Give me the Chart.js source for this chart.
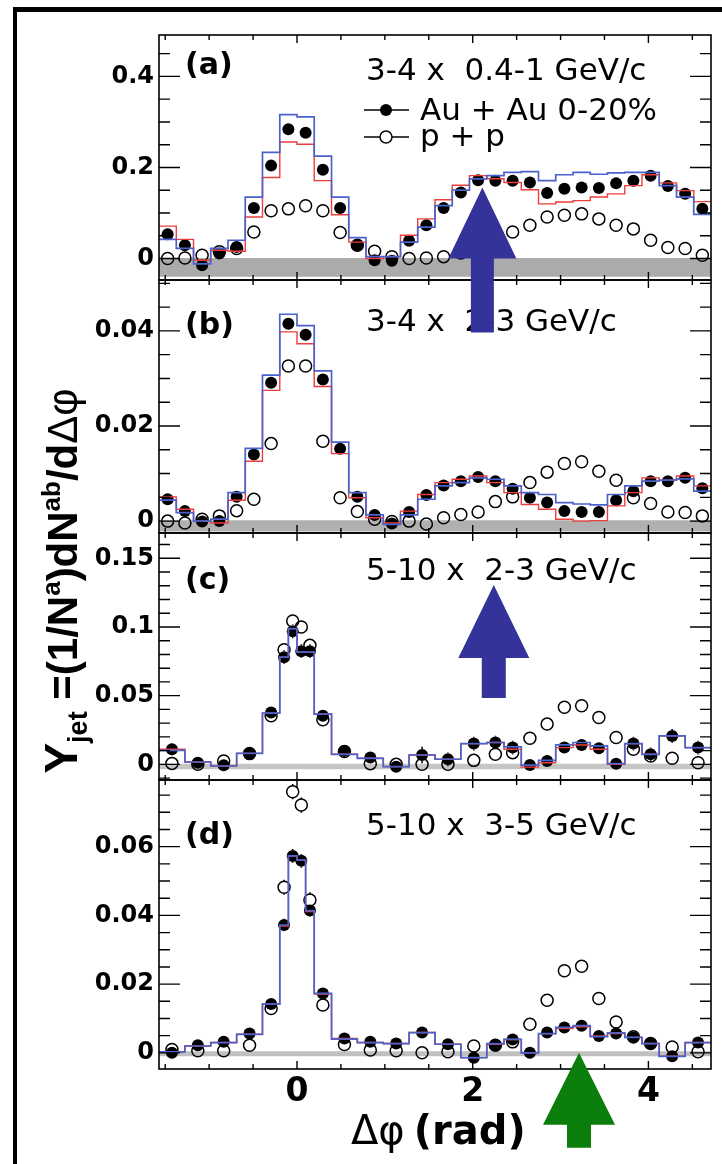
<!DOCTYPE html>
<html>
<head>
<meta charset="utf-8">
<script src="https://cdn.jsdelivr.net/npm/chart.js@4.4.1/dist/chart.umd.min.js"></script>
<style>
  html, body { margin: 0; padding: 0; background: #fff; }
  canvas { display: block; }
</style>
</head>
<body>
<canvas id="jetChart" width="722" height="1164"></canvas>
<script>
// x axis (rad)
const X_MIN = -1.5708;
const X_MAX = 4.7124;
const xTickLabels = [0, 2, 4];
const xMinorStep = 0.5;

// bin edges (rad): uniform pi/16 bins for (a),(b), variable bins for (c),(d)
const edgesAB = [-1.571, -1.374, -1.178, -0.982, -0.785, -0.589, -0.393, -0.196, 0, 0.196, 0.393, 0.589, 0.785, 0.982, 1.178, 1.374,
  1.571, 1.767, 1.963, 2.160, 2.356, 2.553, 2.749, 2.945, 3.142, 3.338, 3.534, 3.731, 3.927, 4.123, 4.320, 4.516, 4.712];
const edgesCD = [-1.571, -1.276, -0.982, -0.687, -0.393, -0.196, -0.098, 0, 0.098, 0.196, 0.393, 0.687, 0.982, 1.276,
  1.571, 1.865, 2.160, 2.356, 2.553, 2.749, 2.945, 3.142, 3.338, 3.534, 3.731, 3.927, 4.123, 4.418, 4.712];

// (a) 3-4 x 0.4-1 GeV/c
const auauA = [0.053, 0.029, -0.015, 0.011, 0.025, 0.111, 0.204, 0.284, 0.276, 0.195, 0.111, 0.029, -0.004, -0.005, 0.039, 0.073,
  0.111, 0.145, 0.172, 0.171, 0.171, 0.167, 0.144, 0.153, 0.156, 0.155, 0.165, 0.171, 0.182, 0.159, 0.142, 0.109];
const ppA = [0.0, 0.001, 0.007, 0.015, 0.022, 0.058, 0.105, 0.109, 0.116, 0.105, 0.057, 0.029, 0.016, 0.004, 0.0, 0.001,
  0.004, 0.012, 0.025, 0.040, 0.058, 0.073, 0.091, 0.095, 0.098, 0.087, 0.073, 0.065, 0.040, 0.024, 0.022, 0.007];
const blueA = [0.042, 0.022, -0.012, 0.022, 0.040, 0.135, 0.233, 0.316, 0.311, 0.225, 0.135, 0.046, 0.004, 0.004, 0.036, 0.069,
  0.116, 0.150, 0.175, 0.182, 0.189, 0.191, 0.171, 0.184, 0.189, 0.185, 0.188, 0.189, 0.189, 0.160, 0.135, 0.097];
const redA = [0.071, 0.042, -0.004, 0.018, 0.016, 0.091, 0.178, 0.256, 0.251, 0.171, 0.096, 0.036, 0.0, 0.004, 0.051, 0.087,
  0.129, 0.161, 0.182, 0.175, 0.167, 0.151, 0.120, 0.124, 0.127, 0.135, 0.142, 0.160, 0.184, 0.166, 0.149, 0.125];

// (b) 3-4 x 2-3 GeV/c
const auauB = [0.0046, 0.0021, -0.0001, 0.0, 0.0051, 0.0140, 0.0291, 0.0415, 0.0392, 0.0298, 0.0152, 0.0051, 0.0013, -0.0005, 0.0019, 0.0055,
  0.0075, 0.0084, 0.0093, 0.0084, 0.0068, 0.0049, 0.0039, 0.0021, 0.0019, 0.0019, 0.0044, 0.0063, 0.0084, 0.0084, 0.0091, 0.0069];
const ppB = [0.0, -0.0004, 0.0004, 0.0011, 0.0022, 0.0046, 0.0163, 0.0326, 0.0326, 0.0168, 0.0049, 0.0020, 0.0004, -0.0001, 0.0, -0.0006,
  0.0007, 0.0014, 0.0019, 0.0041, 0.0051, 0.0081, 0.0103, 0.0121, 0.0125, 0.0105, 0.0086, 0.0049, 0.0037, 0.0019, 0.0018, 0.0011];
const blueB = [0.0044, 0.0018, 0.0, 0.0004, 0.0060, 0.0153, 0.0307, 0.0435, 0.0411, 0.0316, 0.0166, 0.0060, 0.0013, -0.0007, 0.0013, 0.0046,
  0.0074, 0.0081, 0.0091, 0.0088, 0.0074, 0.0060, 0.0056, 0.0039, 0.0036, 0.0034, 0.0056, 0.0074, 0.0084, 0.0086, 0.0089, 0.0063];
const redB = [0.0051, 0.0025, 0.0, -0.0004, 0.0044, 0.0126, 0.0275, 0.0398, 0.0373, 0.0283, 0.0142, 0.0049, 0.0007, -0.0004, 0.0021, 0.0056,
  0.0081, 0.0088, 0.0095, 0.0081, 0.0060, 0.0035, 0.0025, 0.0004, 0.0, 0.0001, 0.0032, 0.0060, 0.0091, 0.0086, 0.0095, 0.0074];

// (c) 5-10 x 2-3 GeV/c
const auauC = [0.0110, 0.0012, -0.0007, 0.0078, 0.0378, 0.0780, 0.0968, 0.0824, 0.0824, 0.0354, 0.0098, 0.0049, -0.0017, 0.0068,
  0.0037, 0.0151, 0.0159, 0.0122, -0.0005, 0.0024, 0.0122, 0.0141, 0.0117, 0.0005, 0.0151, 0.0073, 0.0207, 0.0122];
const auauErrC = [0.0045, 0.004, 0.004, 0.004, 0.004, 0.005, 0.005, 0.005, 0.005, 0.004, 0.004, 0.004, 0.004, 0.006,
  0.005, 0.005, 0.005, 0.005, 0.004, 0.004, 0.004, 0.004, 0.004, 0.004, 0.005, 0.005, 0.005, 0.005];
const ppC = [0.0007, 0.0, 0.0024, 0.0078, 0.0354, 0.0834, 0.1044, 0.1000, 0.0866, 0.0324, 0.0093, 0.0005, 0.0, 0.0,
  0.0, 0.0029, 0.0073, 0.0085, 0.0190, 0.0293, 0.0415, 0.0427, 0.0341, 0.0195, 0.0110, 0.0061, 0.0044, 0.0012];
const blueC = [0.0102, 0.0017, -0.0012, 0.0080, 0.0373, 0.0780, 0.0988, 0.0817, 0.0817, 0.0366, 0.0073, 0.0044, -0.0017, 0.0068,
  0.0037, 0.0151, 0.0159, 0.0127, -0.0005, 0.0029, 0.0141, 0.0159, 0.0134, 0.0005, 0.0151, 0.0073, 0.0207, 0.0122];
const redC = [0.0110, 0.0017, -0.0012, 0.0080, 0.0373, 0.0780, 0.0988, 0.0817, 0.0817, 0.0366, 0.0073, 0.0044, -0.0017, 0.0068,
  0.0037, 0.0151, 0.0159, 0.0110, -0.0020, 0.0012, 0.0122, 0.0141, 0.0110, 0.0, 0.0151, 0.0073, 0.0207, 0.0122];

// (d) 5-10 x 3-5 GeV/c
const auauD = [0.0, 0.0022, 0.0032, 0.0056, 0.0142, 0.0372, 0.0573, 0.0559, 0.0414, 0.0173, 0.0042, 0.0032, 0.0027, 0.0059,
  0.0025, -0.0014, 0.0022, 0.0039, 0.0, 0.0059, 0.0074, 0.0079, 0.0049, 0.0056, 0.0045, 0.0027, -0.0010, 0.0030];
const auauErrD = [0.0015, 0.0013, 0.0013, 0.0013, 0.0015, 0.0018, 0.0020, 0.0020, 0.0018, 0.0014, 0.0012, 0.0012, 0.0012, 0.0016,
  0.0013, 0.0013, 0.0012, 0.0012, 0.0012, 0.0013, 0.0013, 0.0013, 0.0013, 0.0013, 0.0013, 0.0013, 0.0013, 0.0013];
const ppD = [0.0010, 0.0006, 0.0006, 0.0022, 0.0129, 0.0482, 0.0760, 0.0721, 0.0445, 0.0139, 0.0024, 0.0008, 0.0006, 0.0,
  0.0003, 0.0020, 0.0022, 0.0032, 0.0083, 0.0153, 0.0239, 0.0252, 0.0158, 0.0090, 0.0047, 0.0027, 0.0017, 0.0003];
const ppErrD = [0.001, 0.001, 0.001, 0.001, 0.0015, 0.0022, 0.0022, 0.0022, 0.0022, 0.0015, 0.001, 0.001, 0.001, 0.001,
  0.001, 0.001, 0.001, 0.001, 0.001, 0.0012, 0.0013, 0.0013, 0.0013, 0.0012, 0.001, 0.001, 0.001, 0.001];
const blueD = [0.0003, 0.0020, 0.0030, 0.0054, 0.0142, 0.0372, 0.0573, 0.0561, 0.0414, 0.0173, 0.0040, 0.0030, 0.0027, 0.0059,
  0.0025, -0.0014, 0.0027, 0.0039, 0.0, 0.0056, 0.0074, 0.0079, 0.0047, 0.0058, 0.0045, 0.0027, -0.0010, 0.0030];
const redD = [0.0003, 0.0020, 0.0030, 0.0054, 0.0142, 0.0369, 0.0573, 0.0561, 0.0411, 0.0171, 0.0042, 0.0030, 0.0027, 0.0059,
  0.0025, -0.0014, 0.0025, 0.0039, 0.0, 0.0056, 0.0071, 0.0076, 0.0049, 0.0056, 0.0045, 0.0027, -0.0010, 0.0030];

// zero-level normalisation bands [low, high]
const bandA = [-0.040, 0.001];
const bandB = [-0.0022, 0.0002];
const bandC = [-0.0035, 0.0005];
const bandD = [-0.0010, 0.0005];

// y tick labels
const yTicksA = [0, 0.2, 0.4];
const yTicksB = [0, 0.02, 0.04];
const yTicksC = [0, 0.05, 0.1, 0.15];
const yTicksD = [0, 0.02, 0.04, 0.06];

const BLUE = '#4b62cc';
const RED = '#ee3d3d';

const panels = [
  { id: 'ya', edges: edgesAB, auau: auauA, pp: ppA, blue: blueA, red: redA, band: bandA, bandColor: '#ababab',
    min: -0.0473, max: 0.491, ticks: yTicksA, minor: 0.05, weight: 245,
    label: '(a)', labelX: 185, labelDy: 39, title: '3-4 x  0.4-1 GeV/c', titleX: 366, titleDy: 45 },
  { id: 'yb', edges: edgesAB, auau: auauB, pp: ppB, blue: blueB, red: redB, band: bandB, bandColor: '#b0b0b0',
    min: -0.0025, max: 0.0507, ticks: yTicksB, minor: 0.005, weight: 253,
    label: '(b)', labelX: 185, labelDy: 54, title: '3-4 x  2-3 GeV/c', titleX: 366, titleDy: 51 },
  { id: 'yc', edges: edgesCD, auau: auauC, auauErr: auauErrC, pp: ppC, blue: blueC, red: redC, band: bandC, bandColor: '#c6c6c6',
    min: -0.0114, max: 0.1684, ticks: yTicksC, minor: 0.01, weight: 247,
    label: '(c)', labelX: 185, labelDy: 56, title: '5-10 x  2-3 GeV/c', titleX: 366, titleDy: 47 },
  { id: 'yd', edges: edgesCD, auau: auauD, auauErr: auauErrD, pp: ppD, ppErr: ppErrD, blue: blueD, red: redD, band: bandD, bandColor: '#c0c0c0',
    min: -0.0047, max: 0.0794, ticks: yTicksD, minor: 0.005, weight: 289,
    label: '(d)', labelX: 185, labelDy: 64, title: '5-10 x  3-5 GeV/c', titleX: 366, titleDy: 55 }
];

// overlay arrows: x in rad, tip value on a panel scale, sizes in px
const arrows = [
  { x: 2.11, scale: 'ya', tip: 0.156, head: 71, len: 145, half: 34, shaft: 11.5, color: '#333399' },
  { x: 2.24, scale: 'yc', tip: 0.1305, head: 73, len: 113, half: 35.5, shaft: 12, color: '#333399' },
  { x: 3.21, scale: 'yd', tip: 0.0, head: 72, len: 95, half: 36, shaft: 12, color: '#0a7d0a' }
];

const centers = e => e.slice(0, -1).map((v, i) => (v + e[i + 1]) / 2);
const points = (e, vals) => centers(e).map((x, i) => ({ x: x, y: vals[i] }));
const steps = (e, vals) => e.map((x, i) => ({ x: x, y: vals[Math.min(i, vals.length - 1)] }));
const fmt = v => String(+v.toFixed(4));
const MARKER_R = 6;

// Build datasets
const datasets = [];
panels.forEach(p => {
  datasets.push({
    type: 'line', yAxisID: p.id, order: 9, data: [{ x: X_MIN, y: p.band[0] }, { x: X_MAX, y: p.band[0] }],
    borderWidth: 0, pointRadius: 0, fill: false
  });
  datasets.push({
    type: 'line', yAxisID: p.id, order: 8, data: [{ x: X_MIN, y: p.band[1] }, { x: X_MAX, y: p.band[1] }],
    borderWidth: 0, pointRadius: 0, fill: '-1', backgroundColor: p.bandColor
  });
  datasets.push({
    type: 'scatter', yAxisID: p.id, order: 5, data: points(p.edges, p.pp), errors: p.ppErr,
    pointRadius: MARKER_R, pointBorderWidth: 1.5, borderColor: '#000', backgroundColor: 'rgba(0,0,0,0)'
  });
  datasets.push({
    type: 'scatter', yAxisID: p.id, order: 4, data: points(p.edges, p.auau), errors: p.auauErr,
    pointRadius: MARKER_R, pointBorderWidth: 0, borderColor: '#000', backgroundColor: '#000'
  });
  // Chart.js 'before' draws each value from its own x to the next one
  datasets.push({
    type: 'line', yAxisID: p.id, order: 2, data: steps(p.edges, p.red), stepped: 'before',
    borderColor: RED, borderWidth: 1.4, pointRadius: 0, fill: false
  });
  datasets.push({
    type: 'line', yAxisID: p.id, order: 1, data: steps(p.edges, p.blue), stepped: 'before',
    borderColor: BLUE, borderWidth: 1.7, pointRadius: 0, fill: false
  });
});

const tickFont = { family: 'DejaVu Sans', weight: 'bold', size: 24 };
const scales = {
  x: {
    type: 'linear', position: 'bottom', min: X_MIN, max: X_MAX,
    grid: { display: false, drawTicks: false }, border: { display: false },
    afterBuildTicks: s => { s.ticks = xTickLabels.map(v => ({ value: v })); },
    afterFit: s => { s.height = 95; },
    ticks: { font: { family: 'DejaVu Sans', weight: 'bold', size: 33 }, color: '#000', padding: 4, maxRotation: 0, autoSkip: false, callback: fmt }
  }
};
// stacked scales are laid out bottom-up, so add the lowest panel first
panels.slice().reverse().forEach(p => {
  scales[p.id] = {
    type: 'linear', position: 'left', stack: 'panels', stackWeight: p.weight, min: p.min, max: p.max,
    grid: { display: false, drawTicks: false }, border: { display: false },
    afterBuildTicks: s => { s.ticks = p.ticks.map(v => ({ value: v })); },
    afterFit: s => { s.width = 159; },
    ticks: { font: tickFont, color: '#000', padding: 5, autoSkip: false, callback: fmt }
  };
});

// Error bars (outside the marker) for datasets that carry an `errors` array
const errorBars = {
  id: 'errorBars',
  afterDatasetDraw(chart, args) {
    const ds = chart.data.datasets[args.index];
    if (!ds.errors) return;
    const ys = chart.scales[ds.yAxisID];
    const c = chart.ctx;
    c.save();
    c.strokeStyle = '#000';
    c.lineWidth = 1.5;
    args.meta.data.forEach((pt, i) => {
      const v = ds.data[i].y, e = ds.errors[i];
      const yHi = ys.getPixelForValue(v + e), yLo = ys.getPixelForValue(v - e);
      c.beginPath();
      if (pt.y - yHi > MARKER_R) { c.moveTo(pt.x, yHi); c.lineTo(pt.x, pt.y - MARKER_R); }
      if (yLo - pt.y > MARKER_R) { c.moveTo(pt.x, pt.y + MARKER_R); c.lineTo(pt.x, yLo); }
      c.stroke();
    });
    c.restore();
  }
};

// Frames, inward ticks, texts, legend, arrows
const decorations = {
  id: 'decorations',
  afterDraw(chart) {
    const c = chart.ctx;
    const xs = chart.scales.x;
    const L = chart.chartArea.left, R = chart.chartArea.right;
    c.save();

    // outer figure border
    c.fillStyle = '#000';
    c.fillRect(13, 7, 722 - 13, 5);
    c.fillRect(13, 7, 4, 1164 - 7);

    c.strokeStyle = '#000';
    panels.forEach(p => {
      const ys = chart.scales[p.id];
      const T = ys.top, B = ys.bottom;
      c.lineWidth = 1.6;
      c.strokeRect(L, T, R - L, B - T);

      c.lineWidth = 1.4;
      c.beginPath();
      // y ticks (left and right, inward)
      const first = Math.ceil(p.min / p.minor - 1e-6);
      for (let k = first; k * p.minor <= p.max + 1e-9; k++) {
        const v = k * p.minor;
        const major = p.ticks.some(t => Math.abs(t - v) < 1e-9);
        const len = major ? 21 : 11;
        const y = ys.getPixelForValue(v);
        if (y < T + 1 || y > B - 1) continue;
        c.moveTo(L, y); c.lineTo(L + len, y);
        c.moveTo(R, y); c.lineTo(R - len, y);
      }
      // x ticks (top and bottom, inward)
      for (let v = Math.ceil(X_MIN / xMinorStep) * xMinorStep; v <= X_MAX; v += xMinorStep) {
        const major = xTickLabels.some(t => Math.abs(t - v) < 1e-9);
        const len = major ? 8 : 5;
        const x = xs.getPixelForValue(v);
        c.moveTo(x, T); c.lineTo(x, T + len);
        c.moveTo(x, B); c.lineTo(x, B - len);
      }
      c.stroke();

      // panel label and title
      c.fillStyle = '#000';
      c.textBaseline = 'alphabetic';
      c.textAlign = 'left';
      c.font = 'bold 30px "DejaVu Sans"';
      c.fillText(p.label, p.labelX, T + p.labelDy);
      c.font = '31px "DejaVu Sans"';
      c.fillText(p.title, p.titleX, T + p.titleDy);
    });

    // legend in panel (a)
    const legendRows = [
      { text: 'Au + Au 0-20%', filled: true, y: 110, base: 120 },
      { text: 'p + p', filled: false, y: 137, base: 146 }
    ];
    legendRows.forEach(r => {
      c.strokeStyle = '#000';
      c.fillStyle = '#000';
      c.beginPath();
      c.lineWidth = 1.5;
      c.moveTo(364, r.y); c.lineTo(409, r.y);
      c.stroke();
      c.beginPath();
      c.arc(386, r.y, 6, 0, Math.PI * 2);
      if (r.filled) { c.fill(); } else { c.fillStyle = '#fff'; c.fill(); c.fillStyle = '#000'; c.lineWidth = 1.5; c.stroke(); }
      c.font = '31px "DejaVu Sans"';
      c.fillText(r.text, 420, r.base);
    });

    // x axis title: regular Greek + bold unit
    c.font = '40px "DejaVu Sans"';
    c.fillText('Δφ', 351, 1144);
    const wPhi = c.measureText('Δφ').width;
    c.font = 'bold 40px "DejaVu Sans"';
    c.fillText('(rad)', 351 + wPhi + 9, 1144);

    // y axis title, rotated
    const parts = [
      { t: 'Y', s: 46, dy: 0 }, { t: 'jet', s: 27, dy: 10 }, { t: ' =(1/N', s: 42, dy: 0 }, { t: 'a', s: 26, dy: -17 },
      { t: ')dN', s: 42, dy: 0 }, { t: 'ab', s: 26, dy: -17 }, { t: '/d', s: 42, dy: 0 }, { t: 'Δφ', s: 42, dy: 0, normal: true }
    ];
    const fontOf = q => (q.normal ? '' : 'bold ') + q.s + 'px "Liberation Sans"';
    let total = 0;
    parts.forEach(q => { c.font = fontOf(q); total += c.measureText(q.t).width; });
    c.translate(77, 581 + total / 2);
    c.rotate(-Math.PI / 2);
    let px = 0;
    parts.forEach(q => { c.font = fontOf(q); c.fillText(q.t, px, q.dy); px += c.measureText(q.t).width; });
    c.setTransform(1, 0, 0, 1, 0, 0);

    // arrows
    arrows.forEach(a => {
      const cx = xs.getPixelForValue(a.x);
      const ty = chart.scales[a.scale].getPixelForValue(a.tip);
      c.fillStyle = a.color;
      c.beginPath();
      c.moveTo(cx, ty);
      c.lineTo(cx + a.half, ty + a.head);
      c.lineTo(cx + a.shaft, ty + a.head);
      c.lineTo(cx + a.shaft, ty + a.len);
      c.lineTo(cx - a.shaft, ty + a.len);
      c.lineTo(cx - a.shaft, ty + a.head);
      c.lineTo(cx - a.half, ty + a.head);
      c.closePath();
      c.fill();
    });
    c.restore();
  }
};

new Chart(document.getElementById('jetChart'), {
  type: 'scatter',
  data: { datasets: datasets },
  options: {
    responsive: false,
    animation: false,
    devicePixelRatio: 1,
    layout: { padding: { top: 35, right: 11, bottom: 0, left: 0 } },
    plugins: { legend: { display: false }, tooltip: { enabled: false } },
    scales: scales
  },
  plugins: [errorBars, decorations]
});
</script>
</body>
</html>
